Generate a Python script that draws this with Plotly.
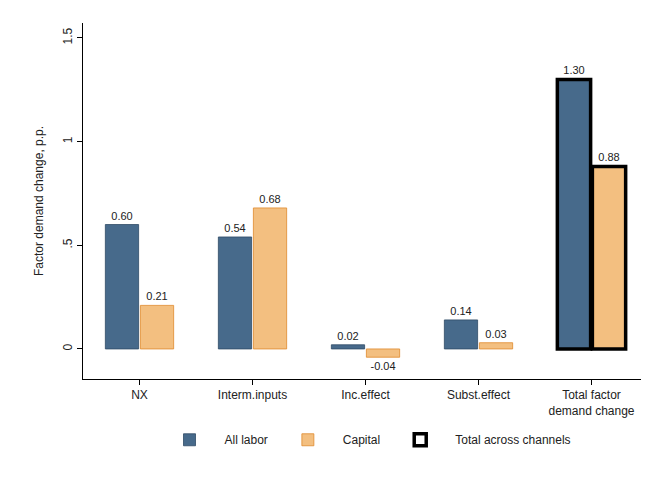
import plotly.graph_objects as go

categories = ["NX", "Interm.inputs", "Inc.effect", "Subst.effect", "Total factor<br>demand change"]
labor = [0.60, 0.54, 0.02, 0.14, 1.30]
capital = [0.21, 0.68, -0.04, 0.03, 0.88]

blue = "#476a8b"
orange = "#f3bf80"
lw_l = [0.8, 0.8, 0.8, 0.8, 3.5]
lw_c = [0.8, 0.8, 0.8, 0.8, 3.5]
lc_l = ["#2f4a66"] * 4 + ["black"]
lc_c = ["#e08a2c"] * 4 + ["black"]
x = list(range(len(categories)))

fig = go.Figure()
fig.add_trace(go.Bar(x=x, y=labor, name="All labor", offsetgroup="a",
                     marker=dict(color=blue, line=dict(color=lc_l, width=lw_l)),
                     texttemplate="%{y:.2f}", textposition="outside", textfont=dict(size=11, color="#222"),
                     constraintext="none", cliponaxis=False))
fig.add_trace(go.Bar(x=x, y=capital, name="Capital", offsetgroup="b",
                     marker=dict(color=orange, line=dict(color=lc_c, width=lw_c)),
                     texttemplate="%{y:.2f}", textposition="outside", textfont=dict(size=11, color="#222"),
                     constraintext="none", cliponaxis=False))
fig.add_trace(go.Bar(x=[None], y=[None], name="Total across channels", offsetgroup="a",
                     marker=dict(color="white", line=dict(color="black", width=3.5))))

fig.update_layout(
    width=649, height=477, paper_bgcolor="white", plot_bgcolor="white",
    margin=dict(l=75, r=9, t=15, b=106),
    barmode="group", bargap=0.38, bargroupgap=0.05, uniformtext=dict(minsize=11, mode="show"),
    font=dict(family="Liberation Sans, Arial", size=12, color="#222"),
    showlegend=True,
    legend=dict(orientation="h", x=0.5, xanchor="center", y=-0.13, yanchor="top",
                font=dict(size=12), itemwidth=60, traceorder="normal"),
)
fig.update_xaxes(tickvals=x, ticktext=categories, range=[-0.5, 4.5], showline=True, linecolor="black",
                 ticks="outside", ticklen=5, tickcolor="black", showgrid=False)
fig.update_yaxes(range=[-0.145, 1.572], tickvals=[0, 0.5, 1, 1.5], ticktext=["0", ".5", "1", "1.5"],
                 tickangle=-90, showline=True, linecolor="black", ticks="outside", ticklen=5,
                 tickcolor="black", showgrid=False, zeroline=False,
                 title=dict(text="Factor demand change, p.p.", font=dict(size=12)))
fig.write_html("out.html")
